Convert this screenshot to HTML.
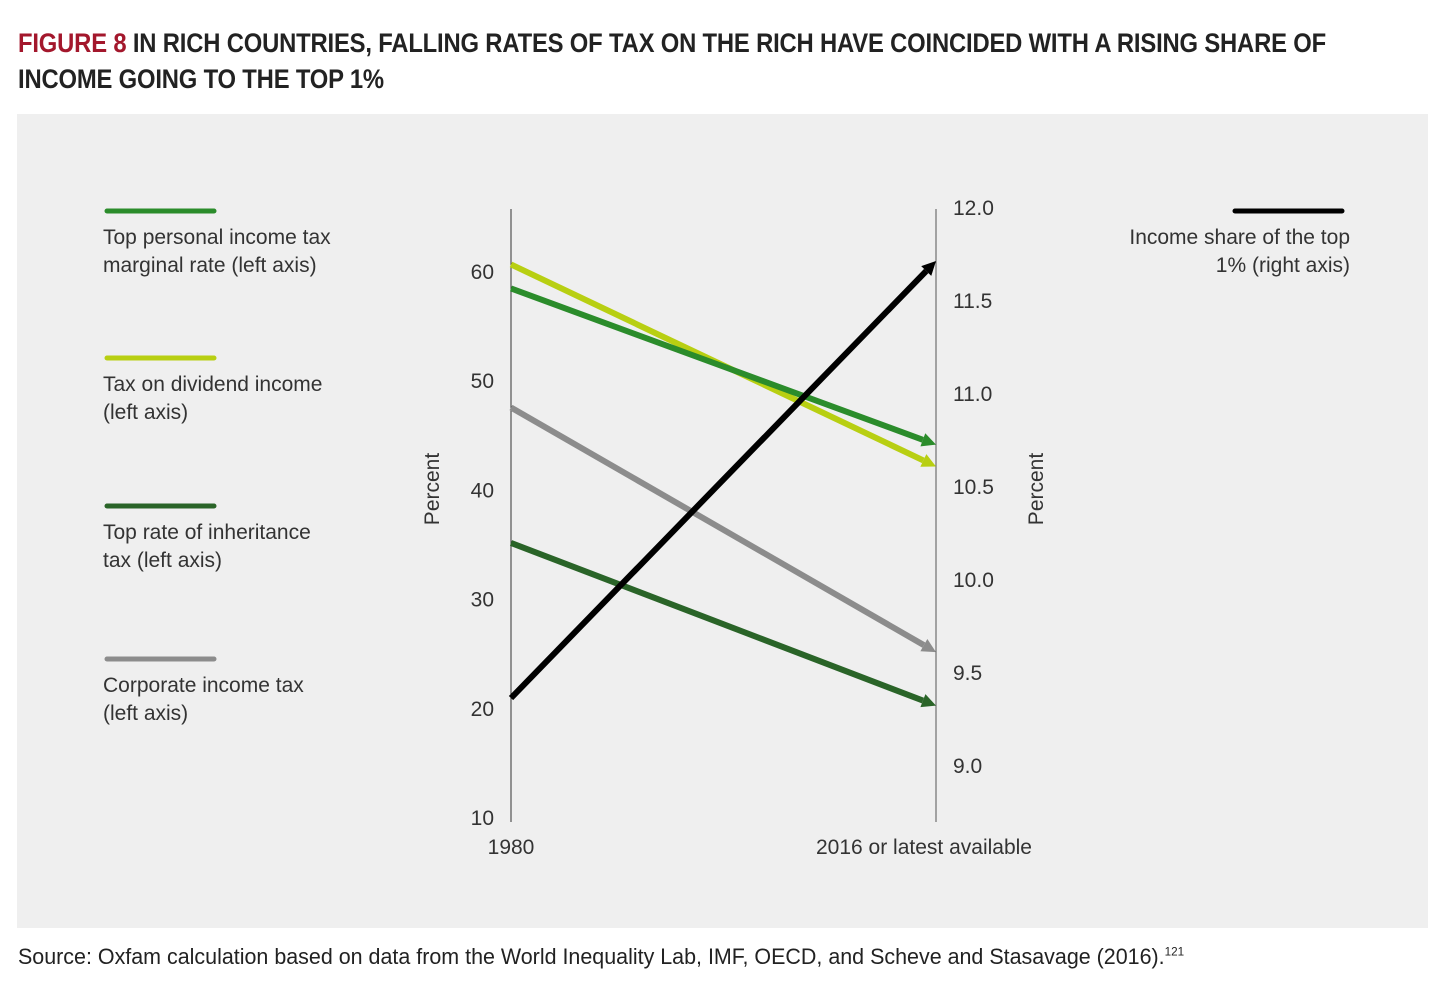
<!DOCTYPE html>
<html><head><meta charset="utf-8"><style>
body{margin:0;width:1456px;height:984px;background:#fff;font-family:"Liberation Sans",sans-serif;overflow:hidden;position:relative}
.title{position:absolute;left:18px;top:25px;font-size:27px;font-weight:bold;line-height:36px;color:#222;white-space:nowrap;transform:scaleX(0.882);transform-origin:0 0;letter-spacing:-0.2px}
.title span{color:#a3172c}
.panel{position:absolute;left:17px;top:114px;width:1411px;height:814px;background:#efefef}
.src{position:absolute;left:18px;top:944px;font-size:22px;color:#222;white-space:nowrap;transform:scaleX(0.975);transform-origin:0 0}
.src sup{font-size:12px}
svg text{font-family:"Liberation Sans",sans-serif;fill:#333}
</style></head><body>
<div class="title"><span>FIGURE 8</span> IN RICH COUNTRIES, FALLING RATES OF TAX ON THE RICH HAVE COINCIDED WITH A RISING SHARE OF<br>INCOME GOING TO THE TOP 1%</div>
<div class="panel"></div>
<svg id="chart" width="1456" height="984" style="position:absolute;left:0;top:0"></svg>
<div class="src">Source: Oxfam calculation based on data from the World Inequality Lab, IMF, OECD, and Scheve and Stasavage (2016).<sup>121</sup></div>
<script>
const leftTicks=[10,20,30,40,50,60];
const rightTicks=[9.0,9.5,10.0,10.5,11.0,11.5,12.0];
const xLabels=["1980","2016 or latest available"];
const seriesNames=["Top personal income tax marginal rate (left axis)","Tax on dividend income (left axis)","Top rate of inheritance tax (left axis)","Corporate income tax (left axis)","Income share of the top 1% (right axis)"];
const personalTax=[58.4,44.1];
const dividendTax=[60.6,42.1];
const inheritanceTax=[35.1,20.2];
const corporateTax=[47.5,25.1];
const top1Share=[9.36,11.71];
const NS="http://www.w3.org/2000/svg";
const svg=document.getElementById('chart');
const X0=511,X1=936;
const yL=v=>817-(v-10)*10.92;
const yR=v=>207+(12-v)*186;
const xp=i=>i===0?X0:X1;
function el(t,a,p){const e=document.createElementNS(NS,t);for(const k in a)e.setAttribute(k,a[k]);(p||svg).appendChild(e);return e;}
let a=el('line',{x1:X0,y1:209,x2:X0,y2:822,stroke:'#333','stroke-width':1});

a=el('line',{x1:X1,y1:209,x2:X1,y2:822,stroke:'#555','stroke-width':1});

leftTicks.forEach(v=>{const t=el('text',{x:494,y:yL(v)+8,'font-size':21,'text-anchor':'end'});t.textContent=v;
});
rightTicks.forEach(v=>{const t=el('text',{x:953,y:yR(v)+8,'font-size':21});t.textContent=v.toFixed(1);
});
let t=el('text',{x:511,y:854,'font-size':21,'text-anchor':'middle'});t.textContent=xLabels[0];

t=el('text',{x:924,y:854,'font-size':21,'text-anchor':'middle'});t.textContent=xLabels[1];

t=el('text',{x:0,y:0,'font-size':21,'text-anchor':'middle',transform:'translate(439,489) rotate(-90)'});t.textContent='Percent';

t=el('text',{x:0,y:0,'font-size':21,'text-anchor':'middle',transform:'translate(1043,489) rotate(-90)'});t.textContent='Percent';

function series(vals,scale,color,name){
  const x1=xp(0),y1=scale(vals[0]),x2=xp(1),y2=scale(vals[1]);
  const dx=x2-x1,dy=y2-y1,L=Math.hypot(dx,dy),ux=dx/L,uy=dy/L;
  const bx=x2-ux*14,by=y2-uy*14;
  const g=el('g',{});
  
  el('line',{x1:x1,y1:y1,x2:bx,y2:by,stroke:color,'stroke-width':6},g);
  el('polygon',{points:`${x2},${y2} ${bx-uy*7},${by+ux*7} ${bx+uy*7},${by-ux*7}`,fill:color},g);
}
series(corporateTax,yL,'#8c8c8c','series-corporate-tax');
series(inheritanceTax,yL,'#2a6428','series-inheritance-tax');
series(dividendTax,yL,'#b8cf12','series-dividend-tax');
series(personalTax,yL,'#2b8c2b','series-personal-income-tax');
series(top1Share,yR,'#000','series-top1-share');
const legColors=['#2b8c2b','#b8cf12','#2a6428','#8c8c8c'];
const legY=[211,358,506,659];
const legLines=[["Top personal income tax","marginal rate (left axis)"],["Tax on dividend income","(left axis)"],["Top rate of inheritance","tax (left axis)"],["Corporate income tax","(left axis)"]];
legLines.forEach((ls,i)=>{const g=el('g',{});

el('line',{x1:107,y1:legY[i],x2:214,y2:legY[i],stroke:legColors[i],'stroke-width':5,'stroke-linecap':'round'},g);
ls.forEach((s,j)=>{const tt=el('text',{x:103,y:legY[i]+33+j*28,'font-size':21},g);tt.textContent=s;});});
const g=el('g',{});

el('line',{x1:1235,y1:211,x2:1342,y2:211,stroke:'#000','stroke-width':5,'stroke-linecap':'round'},g);
[["Income share of the top",244],["1% (right axis)",272]].forEach(([s,y])=>{const tt=el('text',{x:1350,y:y,'font-size':21,'text-anchor':'end'},g);tt.textContent=s;});
</script>
</body></html>
